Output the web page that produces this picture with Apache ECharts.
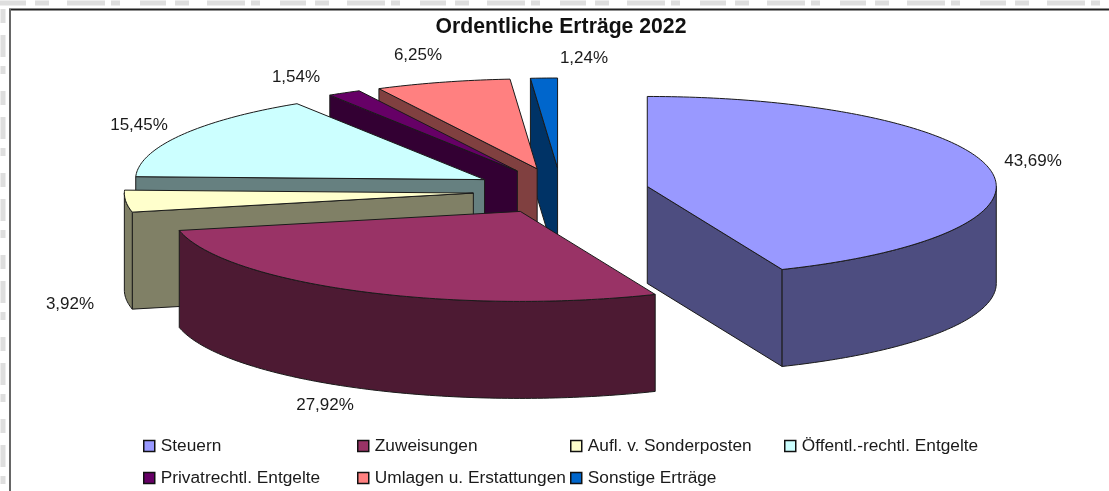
<!DOCTYPE html>
<html>
<head>
<meta charset="utf-8">
<style>html,body{margin:0;padding:0;background:#fff}#c{width:1109px;height:491px;filter:blur(0.35px)}</style>
<script src="https://cdn.jsdelivr.net/npm/echarts@6/dist/echarts.min.js"></script>
</head>
<body>
<div id="c"></div>
<script>
// ---- data ----
const categories = ['Steuern','Zuweisungen','Aufl. v. Sonderposten','Öffentl.-rechtl. Entgelte','Privatrechtl. Entgelte','Umlagen u. Erstattungen','Sonstige Erträge'];
const shares = [43.69,27.92,3.92,15.45,1.54,6.25,1.24];
const shareLabels = ['43,69%','27,92%','3,92%','15,45%','1,54%','6,25%','1,24%'];
// ---- style ----
const topColors = ['#9999FF','#993366','#FFFFCC','#CCFFFF','#660066','#FF8080','#0066CC'];
const sideColors = ['#4D4D80','#4D1A33','#808066','#668080','#330033','#804040','#003366'];
// ---- layout ----
const pie = {cx:561, cy:191, rx:349, ry:90, depth:97, explodeX:88, explodeY:23};
const labelCenters = [[1033,161],[325,405],[70,304],[139,125],[296,77],[418,55],[584,58]];
const paintOrder = [6,5,4,3,2,1,0];
const legendColumns = [{left:143,items:[0,4]},{left:357,items:[1,5]},{left:570,items:[2,6]},{left:784,items:[3]}];

const total = shares.reduce((a,b)=>a+b,0);
const starts = []; shares.reduce((acc,v,i)=>{starts[i]=acc; return acc+v;},0);
const rad = d => d*Math.PI/180;

function renderSlice(i, api){
  const value = api.value(0);
  const a = starts[i]/total*360, b = a + value/total*360, mid = (a+b)/2;
  const ax = pie.cx + pie.explodeX*Math.sin(rad(mid));
  const ay = pie.cy - pie.explodeY*Math.cos(rad(mid));
  const pt = (t,dy=0)=>[ax+pie.rx*Math.sin(rad(t)), ay-pie.ry*Math.cos(rad(t))+dy];
  const arc = (s,e,dy=0)=>{const out=[];const n=Math.max(2,Math.ceil(Math.abs(e-s)));for(let k=0;k<=n;k++)out.push(pt(s+(e-s)*k/n,dy));return out;};
  const shapeStyle = fill=>({fill, stroke:'#1a1a1a', lineWidth:1, lineJoin:'round'});
  const poly = (points,fill)=>({type:'polygon',silent:true,shape:{points},style:shapeStyle(fill)});
  const side = sideColors[i], kids=[];
  // radial walls that face the viewer
  if (Math.sin(rad(a))<0) kids.push(poly([[ax,ay],pt(a),pt(a,pie.depth),[ax,ay+pie.depth]],side));
  if (Math.sin(rad(b))>0) kids.push(poly([[ax,ay],pt(b),pt(b,pie.depth),[ax,ay+pie.depth]],side));
  // outer wall (front half of the rim)
  const s=Math.max(a,90), e=Math.min(b,270);
  if (e>s) kids.push(poly(arc(s,e).concat(arc(e,s,pie.depth)),side));
  // top face
  kids.push(poly([[ax,ay]].concat(arc(a,b)),topColors[i]));
  // value label
  kids.push({type:'text',silent:true,style:{text:shareLabels[i],x:labelCenters[i][0],y:labelCenters[i][1],align:'center',verticalAlign:'middle',font:'17px "Liberation Sans"',fill:'#1a1a1a'}});
  return {type:'group',children:kids};
}

const series = categories.map((name,i)=>({
  type:'custom', name, coordinateSystem:'none', z:2+paintOrder.indexOf(i),
  itemStyle:{color:topColors[i]}, data:[[shares[i]]],
  renderItem:(params,api)=>renderSlice(i,api), animation:false, silent:true
}));

const legend = legendColumns.map(col=>({
  left:col.left, top:437, orient:'vertical', itemGap:14, padding:0,
  itemWidth:11, itemHeight:11, icon:'rect', selectedMode:false,
  itemStyle:{borderColor:'#111',borderWidth:1.5},
  textStyle:{fontFamily:'Liberation Sans',fontSize:17.3,color:'#1a1a1a',padding:[0,0,0,1],lineHeight:18},
  data:col.items.map(k=>categories[k])
}));

const line=(x1,y1,x2,y2,stroke,lineWidth,dash)=>({type:'line',silent:true,shape:{x1,y1,x2,y2},style:{stroke,lineWidth,lineDash:dash}});
const chart = echarts.init(document.getElementById('c'),null,{renderer:'canvas'});
chart.setOption({
  animation:false, backgroundColor:'#fff',
  title:{text:'Ordentliche Erträge 2022',left:561,top:27,textAlign:'center',textVerticalAlign:'middle',padding:0,
    textStyle:{fontFamily:'Liberation Sans',fontWeight:'bold',fontSize:21.2,color:'#111'}},
  legend, series,
  graphic:[
    line(0,3,1109,3,'#dedede',5,[26,9,14,18,38,6,9,20]),
    line(3,9,3,491,'#dedede',5,[14,12,22,9,8,17]),
    line(9,9.5,1109,9.5,'#222',2),
    line(10,9,10,491,'#666',2)
  ]
});
</script>
</body>
</html>
